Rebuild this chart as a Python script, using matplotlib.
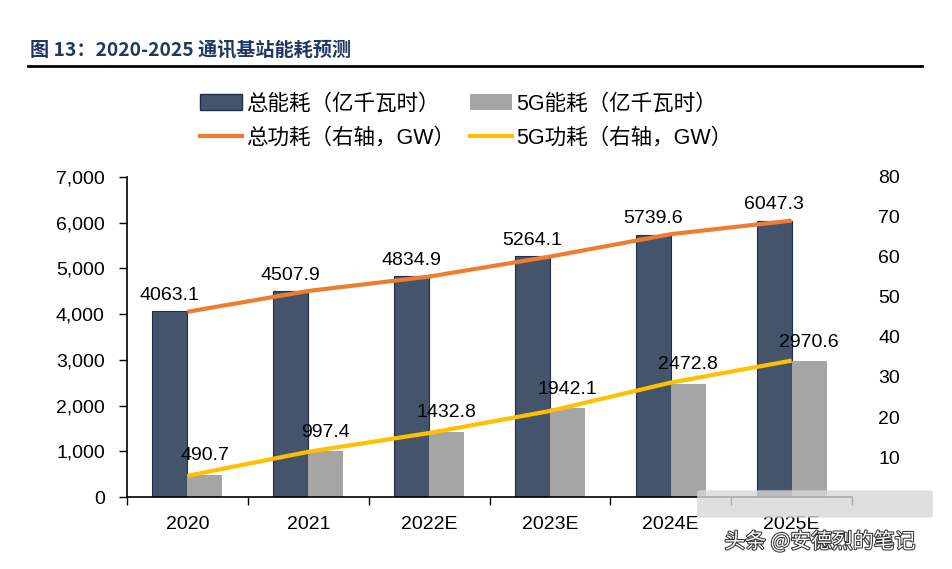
import matplotlib.pyplot as plt
import matplotlib.patheffects as pe
import numpy as np
from matplotlib.patches import Patch, FancyBboxPatch
from matplotlib.lines import Line2D

plt.rcParams['font.family'] = ['Liberation Sans', 'Noto Sans CJK SC', 'DejaVu Sans']

# data
years = ['2020', '2021', '2022E', '2023E', '2024E', '2025E']
total_energy = [4063.1, 4507.9, 4834.9, 5264.1, 5739.6, 6047.3]   # 亿千瓦时
g5_energy = [490.7, 997.4, 1432.8, 1942.1, 2472.8, 2970.6]        # 亿千瓦时
total_power = [46.3, 51.5, 55.1, 60.1, 65.7, 69.1]                # GW, right axis
g5_power = [5.3, 11.3, 16.0, 21.5, 28.6, 34.1]                    # GW, right axis

navy = '#44546A'
grey = '#A5A5A5'
orange = '#ED7D31'
yellow = '#FFC000'

fig = plt.figure(figsize=(9.52, 5.69), dpi=100)
ax = fig.add_axes([0.1334, 0.1265, 0.7616, 0.5625])
ax2 = ax.twinx()

x = np.arange(len(years))
w = 0.29
ax.bar(x - w / 2, total_energy, w, color=navy, edgecolor='#1F2D4A', linewidth=0.8, zorder=2)
ax.bar(x + w / 2, g5_energy, w, color=grey, zorder=2)

for i in range(len(years)):
    ax.text(x[i] - w / 2, total_energy[i] + 160, f'{total_energy[i]:.1f}',
            ha='center', va='bottom', fontsize=14, zorder=5)
    ax.text(x[i] + w / 2, g5_energy[i] + 230, f'{g5_energy[i]:.1f}',
            ha='center', va='bottom', fontsize=14, zorder=5)

ax2.plot(x, total_power, color=orange, linewidth=3, solid_capstyle='butt', zorder=3)
ax2.plot(x, g5_power, color=yellow, linewidth=3, solid_capstyle='butt', zorder=3)

ax.set_xlim(-0.5, len(years) - 0.5)
ax.set_ylim(0, 7000)
ax2.set_ylim(0, 80)

ax.set_yticks(np.arange(0, 7001, 1000))
ax.set_yticklabels([f'{v:,}' for v in range(0, 7001, 1000)], fontsize=14)
ax.tick_params(axis='y', direction='out', length=6, width=1, pad=10)

ax.set_xticks(x)
ax.set_xticklabels(years, fontsize=14)
ax.set_xticks(np.arange(-0.5, len(years), 1), minor=True)
ax.tick_params(axis='x', which='major', length=0, pad=14)
ax.tick_params(axis='x', which='minor', direction='out', length=6, width=1)

ax2.set_yticks(np.arange(0, 81, 10))
ax2.set_yticklabels([''] + [str(v) for v in range(10, 81, 10)], fontsize=14)
ax2.tick_params(axis='y', length=0, pad=19)

for a in (ax, ax2):
    a.spines['top'].set_visible(False)
    a.spines['right'].set_visible(False)
ax2.spines['left'].set_visible(False)
ax2.spines['bottom'].set_visible(False)
ax.spines['left'].set_linewidth(1.2)
ax.spines['bottom'].set_linewidth(1.2)
ax.set_zorder(ax2.get_zorder() - 1)
ax.patch.set_visible(False)

# legend
handles = [Patch(facecolor=navy, edgecolor='#1F2D4A'),
           Line2D([], [], color=orange, linewidth=3),
           Patch(facecolor=grey),
           Line2D([], [], color=yellow, linewidth=3)]
labels = ['总能耗（亿千瓦时）', '总功耗（右轴，GW）', '5G能耗（亿千瓦时）', '5G功耗（右轴，GW）']
fig.legend(handles, labels, ncol=2, loc='center', bbox_to_anchor=(466 / 952, 1 - 121 / 569),
           frameon=False, fontsize=15.5, handlelength=1.95, handleheight=0.75,
           handletextpad=0.2, columnspacing=0.7, labelspacing=0.6)

# title + rule
fig.text(30 / 952, 1 - 51 / 569, '图 13：2020-2025 通讯基站能耗预测', fontsize=13.8,
         fontweight='bold', color='#1F3864', va='center', ha='left',
         family=['Noto Sans CJK SC', 'DejaVu Sans'])
fig.add_artist(Line2D([28 / 952, 922 / 952], [1 - 66 / 569, 1 - 66 / 569],
                      color='black', linewidth=2, transform=fig.transFigure))

# watermark
fig.add_artist(FancyBboxPatch((700 / 952, 1 - 516 / 569), 230 / 952, 24 / 569,
                              boxstyle='round,pad=0.003', facecolor='#D8D8D8',
                              edgecolor='none', alpha=0.8, transform=fig.transFigure))
fig.text(820 / 952, 1 - 542 / 569, '头条 @安德烈的笔记', fontsize=15, color='white',
         ha='center', va='center', family=['Noto Sans CJK SC', 'DejaVu Sans'],
         path_effects=[pe.withStroke(linewidth=1.5, foreground='#333333')])

fig.savefig('out.png', dpi=100)
